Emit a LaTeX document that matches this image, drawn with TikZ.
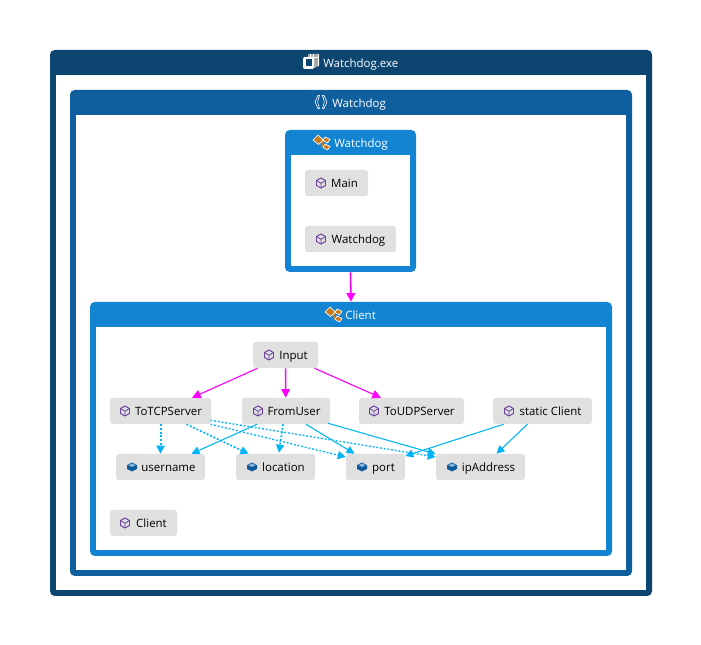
\documentclass[tikz,border=0pt]{standalone}
\usepackage{fontspec}
\setmainfont{Open Sans}
\usepackage{xcolor}
\usetikzlibrary{arrows.meta}
\definecolor{asmblue}{HTML}{0B4570}
\definecolor{nsblue}{HTML}{0F5F9E}
\definecolor{classblue}{HTML}{1284D2}
\definecolor{membergray}{HTML}{E0E0E0}
\definecolor{edgecyan}{HTML}{00B4F5}
\definecolor{edgepink}{HTML}{FF00FF}
\definecolor{methodpurple}{HTML}{6B3FA0}
\definecolor{fieldblue}{HTML}{0B5AA0}
\definecolor{classorange}{HTML}{C87A1E}
\tikzset{
    box/.style={draw=none, rounded corners=3.5, minimum height=0, inner sep=0},
    member/.style={fill=membergray, rounded corners=2, minimum height=26*0.75pt, inner sep=0, text height=7pt, text depth=0.2pt, font=\fontsize{8.6}{11}\selectfont, text=black},
    title/.style={text=white, inner sep=0, font=\fontsize{8.6}{11}\selectfont, anchor=base west},
    calls/.style={edgepink, line width=0.85pt, -{Triangle[width=6.5pt,length=6.5pt]}},
    uses/.style={edgecyan, line width=0.8pt, -{Triangle[width=6pt,length=6pt]}},
    usesdot/.style={uses, dash pattern=on 1.4pt off 1.4pt, line width=1pt},
    method/.pic={
        \draw[methodpurple, line width=0.7pt, line join=round] (0,-5) -- (4.5,-2.5) -- (4.5,2.5) -- (0,5) -- (-4.5,2.5) -- (-4.5,-2.5) -- cycle;
        \draw[methodpurple, line width=0.6pt] (-4.5,-2.5) -- (0,0.3) -- (4.5,-2.5) (0,0.3) -- (0,5);
    },
    field/.pic={
        \fill[fieldblue] (0,-4.5) -- (5,-1.8) -- (5,2) -- (0,4.5) -- (-5,2) -- (-5,-1.8) -- cycle;
        \fill[white!55!fieldblue] (0,-3.6) -- (3.4,-1.7) -- (0,0) -- (-3.4,-1.7) -- cycle;
    },
    classicon/.pic={
        \draw[classorange, line width=0.8pt] (-1,-2) -- (2,-2) (0,-2) -- (0,4) -- (4,4);
        \fill[classorange, draw=white, line width=0.5pt] (-9,-2) -- (-4,-7) -- (1.5,-2) -- (-3.5,2.5) -- cycle;
        \fill[classorange, draw=white, line width=0.5pt] (3,-5) -- (8,-2.5) -- (5.5,1) -- (1,-1.5) -- cycle;
        \fill[classorange, draw=white, line width=0.5pt] (3,2) -- (8,4.5) -- (5.5,8) -- (1,5.5) -- cycle;
    },
    nsicon/.pic={
        \draw[white, line width=0.45pt, line join=round] (-1.5,-6.5) -- (-3,-6.5) -- (-6,0) -- (-3,6.5) -- (-1.5,6.5) -- (-3.4,0) -- cycle;
        \draw[white, line width=0.45pt, line join=round] (1.5,-6.5) -- (3,-6.5) -- (6,0) -- (3,6.5) -- (1.5,6.5) -- (3.4,0) -- cycle;
    },
    asmicon/.pic={
        \fill[gray!70] (-3,-8) -- (5,-8) -- (8,-8) -- (8,4) -- (3,6) -- (-3,6) -- cycle;
        \draw[white, line width=0.6pt] (-1,-8) -- (-1,-5) -- (7,-5) (2,-8) -- (2,-3) (7.5,-8) -- (7.5,4);
        \fill[white, rounded corners=1] (-8,-5) rectangle (3,7);
        \fill[asmblue] (-5.5,-2.5) rectangle (0.5,4.5);
    },
}
\begin{document}
\begin{tikzpicture}[x=0.75pt, y=-0.75pt]
    \useasboundingbox (0,0) rectangle (701,645);

    % Assembly
    \fill[asmblue, rounded corners=3.5] (50,50) rectangle (652,596);
    \fill[white] (56,75) rectangle (646,590);
    \pic at (311,62) {asmicon};
    \node[title] (asmtitle) at (323,67.5) {Watchdog.exe};

    % Namespace
    \fill[nsblue, rounded corners=3.5] (70,90) rectangle (632,576);
    \fill[white] (76,115) rectangle (626,570);
    \pic at (321,102) {nsicon};
    \node[title] (nstitle) at (332,107.5) {Watchdog};

    % Classes
    \node[box, fill=classblue, minimum width=131*0.75pt, minimum height=142*0.75pt] (watchdogclass) at (350.5,201) {};
    \fill[white] (291,155) rectangle (410,266);
    \pic at (322,142) {classicon};
    \node[title] (watchdogtitle) at (334,147.5) {Watchdog};

    \node[box, fill=classblue, minimum width=522*0.75pt, minimum height=254*0.75pt] (clientclass) at (351,429) {};
    \fill[white] (96,327) rectangle (606,550);
    \pic at (334,314) {classicon};
    \node[title] (clienttitle) at (345,319.5) {Client};

    % Members
    \node[member, minimum width=63*0.75pt] (mainm) at (336.5,183) {\hspace*{12pt}Main};
    \pic at (321,183) {method};
    \node[member, minimum width=91*0.75pt] (watchdogm) at (350.5,239) {\hspace*{12pt}Watchdog};
    \pic at (321,239) {method};
    \node[member, minimum width=65*0.75pt] (input) at (285.5,355) {\hspace*{12pt}Input};
    \pic at (269,355) {method};
    \node[member, minimum width=101*0.75pt] (totcp) at (160.5,411) {\hspace*{12pt}ToTCPServer};
    \pic at (125,411) {method};
    \node[member, minimum width=88*0.75pt] (fromuser) at (286,411) {\hspace*{12pt}FromUser};
    \pic at (258,411) {method};
    \node[member, minimum width=105*0.75pt] (toudp) at (411.5,411) {\hspace*{12pt}ToUDPServer};
    \pic at (374,411) {method};
    \node[member, minimum width=99*0.75pt] (staticclient) at (542.5,411) {\hspace*{12pt}static Client};
    \pic at (509,411) {method};
    \node[member, minimum width=67*0.75pt] (clientm) at (143.5,523) {\hspace*{12pt}Client};
    \pic at (125,523) {method};
    \node[member, minimum width=89*0.75pt] (username) at (160.5,467) {\hspace*{12pt}username};
    \pic at (132,467) {field};
    \node[member, minimum width=79*0.75pt] (location) at (275.5,467) {\hspace*{12pt}location};
    \pic at (252,467) {field};
    \node[member, minimum width=59*0.75pt] (port) at (375.5,467) {\hspace*{12pt}port};
    \pic at (362,467) {field};
    \node[member, minimum width=89*0.75pt] (ipaddress) at (480.5,467) {\hspace*{12pt}ipAddress};
    \pic at (452,467) {field};

    % Calls
    \draw[calls, line width=1.2pt] (watchdogclass.south) -- (clientclass.north);
    \draw[calls] ([shift={(-28,0)}]input.south) -- ([shift={(31.5,0)}]totcp.north);
    \draw[calls, line width=1.1pt] ([shift={(0.2,0)}]input.south) -- ([shift={(-0.3,0)}]fromuser.north);
    \draw[calls] ([shift={(29,0)}]input.south) -- ([shift={(-30.5,0)}]toudp.north);

    % Field use
    \draw[uses] ([shift={(-29,0)}]fromuser.south) -- ([shift={(31,0)}]username.north);
    \draw[uses] ([shift={(20,0)}]fromuser.south) -- ([shift={(-21,0)}]port.north);
    \draw[uses] ([shift={(42,-1)}]fromuser.south) -- ([shift={(0,-13)}]ipaddress.west);
    \draw[uses] ([shift={(-39,0)}]staticclient.south) -- ([shift={(0,-11)}]port.east);
    \draw[uses] ([shift={(-15,0)}]staticclient.south) -- ([shift={(16,0)}]ipaddress.north);

    % Field use, dotted
    \draw[usesdot, line width=1.5pt] (totcp.south) -- (username.north);
    \draw[usesdot, line width=1.3pt] ([shift={(26,0)}]totcp.south) -- ([shift={(-27,0)}]location.north);
    \draw[usesdot] ([shift={(50,0)}]totcp.south) -- ([shift={(0,-10)}]port.west);
    \draw[usesdot] ([shift={(50,-4)}]totcp.south) -- ([shift={(0,-10)}]ipaddress.west);
    \draw[usesdot, line width=1.3pt] ([shift={(-3,0)}]fromuser.south) -- ([shift={(3.5,-1)}]location.north);
\end{tikzpicture}
\end{document}
